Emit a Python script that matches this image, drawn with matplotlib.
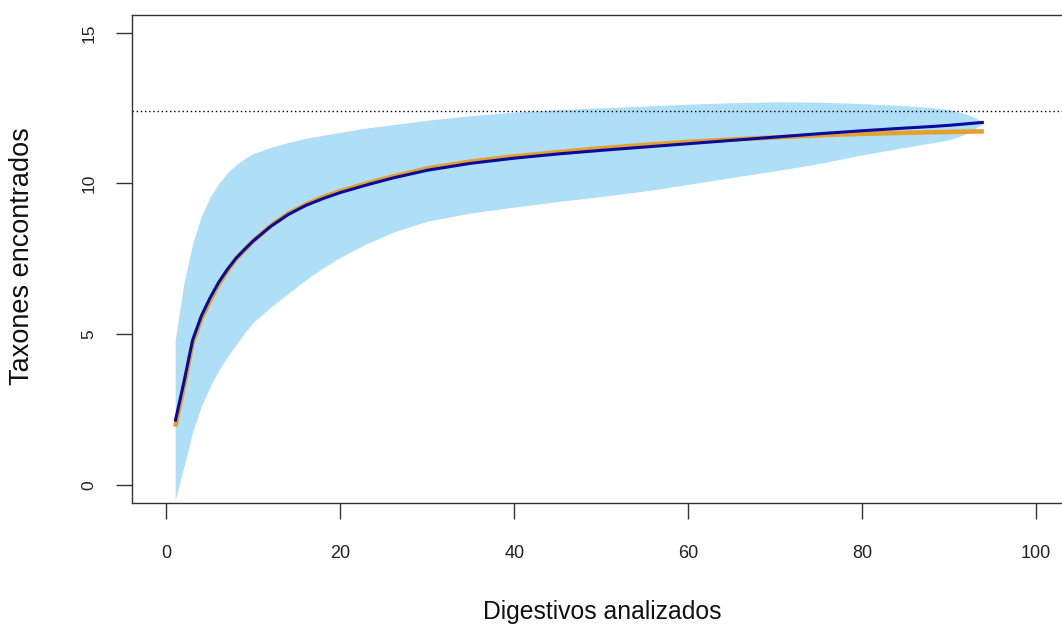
import matplotlib
matplotlib.use("Agg")
import matplotlib.pyplot as plt
import numpy as np

plt.rcParams['font.family'] = ['Liberation Sans', 'DejaVu Sans']

# Number of digestive tracts sampled
samples = [1, 2, 3, 4, 5, 6, 7, 8, 9, 10, 12, 14, 16, 18, 20, 23, 26, 30, 35,
           40, 45, 50, 55, 60, 65, 70, 75, 80, 85, 88, 90, 92, 94]

# Confidence envelope of the accumulation curve
upper = [4.8, 6.7, 8.0, 8.9, 9.55, 10.0, 10.35, 10.62, 10.83, 11.0, 11.2, 11.36,
         11.5, 11.6, 11.7, 11.84, 11.95, 12.1, 12.25, 12.37, 12.45, 12.51, 12.57,
         12.63, 12.68, 12.71, 12.7, 12.65, 12.58, 12.52, 12.45, 12.3, 12.05]
lower = [-0.5, 0.6, 1.75, 2.6, 3.25, 3.8, 4.25, 4.65, 5.05, 5.4, 5.9, 6.35,
         6.8, 7.2, 7.55, 8.0, 8.38, 8.75, 9.02, 9.22, 9.4, 9.57, 9.75, 9.97,
         10.2, 10.42, 10.66, 10.95, 11.2, 11.35, 11.45, 11.65, 12.0]

# Observed accumulation curve and fitted curve
observed = [2.1, 3.4, 4.8, 5.6, 6.2, 6.72, 7.15, 7.52, 7.82, 8.1, 8.58, 8.97,
            9.27, 9.5, 9.7, 9.95, 10.18, 10.44, 10.67, 10.84, 10.98, 11.1, 11.21,
            11.32, 11.43, 11.54, 11.65, 11.75, 11.84, 11.89, 11.93, 11.98, 12.03]
fitted = [1.93, 3.26, 4.7, 5.5, 6.1, 6.65, 7.1, 7.5, 7.8, 8.1, 8.6, 9.0,
          9.3, 9.55, 9.75, 10.0, 10.23, 10.5, 10.73, 10.9, 11.04, 11.17,
          11.28, 11.38, 11.46, 11.53, 11.6, 11.65, 11.68, 11.7, 11.71, 11.72, 11.73]

asymptote = 12.39

x_ticks = [0, 20, 40, 60, 80, 100]
y_ticks = [0, 5, 10, 15]

W, H = 1062, 628
fig = plt.figure(figsize=(W / 100, H / 100), dpi=100)
left, right, bottom, top = 131.7, 1070.8, 503.0, 14.7
ax = fig.add_axes([left / W, 1 - bottom / H, (right - left) / W, (bottom - top) / H])

ax.fill_between(samples, lower, upper, color='#AEDFF7', linewidth=0, zorder=1)
ax.axhline(asymptote, color='black', linestyle=(0, (1, 2)), linewidth=1.0, zorder=2)
ax.plot(samples, fitted, color='#E6A02E', linewidth=3.3, solid_capstyle='butt',
        solid_joinstyle='round', zorder=3)
ax.plot(samples, observed, color='#0A0A9E', linewidth=2.2, solid_capstyle='butt',
        solid_joinstyle='round', zorder=4)

ax.set_xlim(-4, 104)
ax.set_ylim(-0.6, 15.6)
ax.set_xticks(x_ticks)
ax.set_yticks(y_ticks)
ax.set_xticklabels([str(v) for v in x_ticks])
ax.set_yticklabels([str(v) for v in y_ticks])

for side in ['top', 'left', 'bottom', 'right']:
    ax.spines[side].set_color('#333333')
    ax.spines[side].set_linewidth(1.0)

ax.tick_params(axis='x', length=11.5, width=1.0, color='#333333', pad=19,
               labelsize=13, labelcolor='#222222')
ax.tick_params(axis='y', length=11.5, width=1.0, color='#333333', pad=14,
               labelsize=12.5, labelcolor='#222222', labelrotation=90)
for lbl in ax.get_yticklabels():
    lbl.set_verticalalignment('center')

fig.text(602 / W, 1 - 612 / H, 'Digestivos analizados', ha='center', va='center',
         fontsize=17.8, color='#111111')
fig.text(22 / W, 1 - 256 / H, 'Taxones encontrados', ha='center', va='center',
         rotation=90, fontsize=19.5, color='#111111')

fig.savefig('out.png', dpi=100)
